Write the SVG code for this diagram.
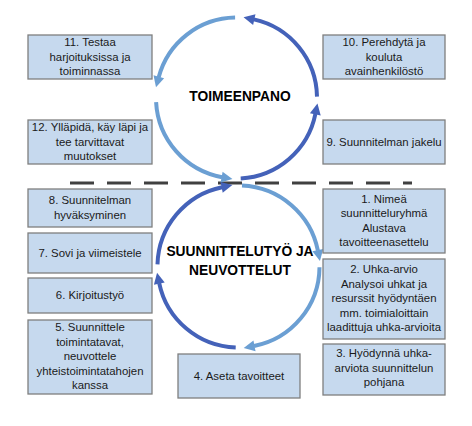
<svg xmlns="http://www.w3.org/2000/svg" width="472" height="426" viewBox="0 0 472 426">
<style>
.box{fill:#C6D9EE;stroke:#7F7F7F;stroke-width:1.3}
.t{font-family:"Liberation Sans",Arial,sans-serif;font-size:11.4px;fill:#1a1a1a;text-anchor:middle}
.big{font-family:"Liberation Sans",Arial,sans-serif;font-size:13.8px;font-weight:bold;fill:#000;text-anchor:middle}
.lt{fill:none;stroke:#6B9FD3;stroke-width:4;marker-end:url(#aL)}
.dk{fill:none;stroke:#4462B9;stroke-width:4;marker-end:url(#aD)}
</style>
<defs>
<marker id="aL" markerUnits="userSpaceOnUse" markerWidth="12" markerHeight="12" viewBox="0 0 12 12" refX="0.5" refY="6" orient="auto" overflow="visible"><path d="M0,0.5 L11,6 L0,11.5 z" fill="#6B9FD3"/></marker>
<marker id="aD" markerUnits="userSpaceOnUse" markerWidth="12" markerHeight="12" viewBox="0 0 12 12" refX="0.5" refY="6" orient="auto" overflow="visible"><path d="M0,0.5 L11,6 L0,11.5 z" fill="#4462B9"/></marker>
</defs>
<rect width="472" height="426" fill="#fff"/>
<g id="connectors">
<line x1="70" y1="183" x2="412" y2="183" stroke="#404040" stroke-width="3" stroke-dasharray="24 13"/>
<path class="lt" d="M235.1 17.5 A80.5 80.5 0 0 0 158.7 77.2"/>
<path class="lt" d="M156.1 102.2 A80.5 80.5 0 0 0 222.1 177.2"/>
<path class="dk" d="M240.7 178.4 A80.5 80.5 0 0 0 315.4 113.9"/>
<path class="dk" d="M317 96.6 A80.5 80.5 0 0 0 253.8 19.4"/>
<path class="lt" d="M242 185.5 A81 81 0 0 1 317.9 250.6"/>
<path class="lt" d="M319.5 267.2 A81 81 0 0 1 254 346"/>
<path class="dk" d="M235.7 347.5 A81 81 0 0 1 159.2 283.1"/>
<path class="dk" d="M157.5 264.4 A81 81 0 0 1 222.1 187.2"/>
</g>
<g id="title-top"><text class="big" x="240" y="101">TOIMEENPANO</text></g>
<g id="title-bottom"><text class="big" x="240" y="256">SUUNNITTELUTYÖ JA</text><text class="big" x="240" y="275">NEUVOTTELUT</text></g>
<g id="n11"><rect class="box" x="28" y="35" width="124" height="44"/><text class="t" x="90" y="46">11. Testaa</text><text class="t" x="90" y="60.5">harjoituksissa ja</text><text class="t" x="90" y="75">toiminnassa</text></g>
<g id="n12"><rect class="box" x="28" y="120" width="124" height="44"/><text class="t" x="90" y="131">12. Ylläpidä, käy läpi ja</text><text class="t" x="90" y="145.5">tee tarvittavat</text><text class="t" x="90" y="160">muutokset</text></g>
<g id="n10"><rect class="box" x="323" y="35" width="122" height="44"/><text class="t" x="384" y="46">10. Perehdytä ja</text><text class="t" x="384" y="60.5">kouluta</text><text class="t" x="384" y="75">avainhenkilöstö</text></g>
<g id="n9"><rect class="box" x="323" y="120" width="122" height="44"/><text class="t" x="384" y="146">9. Suunnitelman jakelu</text></g>
<g id="n8"><rect class="box" x="28" y="189" width="124" height="38"/><text class="t" x="90" y="204">8. Suunnitelman</text><text class="t" x="90" y="218.5">hyväksyminen</text></g>
<g id="n7"><rect class="box" x="28" y="233" width="124" height="40"/><text class="t" x="90" y="256.5">7. Sovi ja viimeistele</text></g>
<g id="n6"><rect class="box" x="28" y="278" width="124" height="35"/><text class="t" x="90" y="299">6. Kirjoitustyö</text></g>
<g id="n5"><rect class="box" x="28" y="320" width="124" height="74"/><text class="t" x="90" y="331">5. Suunnittele</text><text class="t" x="90" y="345.5">toimintatavat,</text><text class="t" x="90" y="360">neuvottele</text><text class="t" x="90" y="374.5">yhteistoimintatahojen</text><text class="t" x="90" y="389">kanssa</text></g>
<g id="n4"><rect class="box" x="178" y="354" width="122" height="44"/><text class="t" x="239" y="380">4. Aseta tavoitteet</text></g>
<g id="n1"><rect class="box" x="323" y="189" width="122" height="64"/><text class="t" x="384" y="202.5">1. Nimeä</text><text class="t" x="384" y="217">suunnitteluryhmä</text><text class="t" x="384" y="231.5">Alustava</text><text class="t" x="384" y="246">tavoitteenasettelu</text></g>
<g id="n2"><rect class="box" x="323" y="259" width="122" height="80"/><text class="t" x="384" y="273">2. Uhka-arvio</text><text class="t" x="384" y="287.5">Analysoi uhkat ja</text><text class="t" x="384" y="302">resurssit hyödyntäen</text><text class="t" x="384" y="316.5">mm. toimialoittain</text><text class="t" x="384" y="331">laadittuja uhka-arvioita</text></g>
<g id="n3"><rect class="box" x="323" y="344" width="122" height="51"/><text class="t" x="384" y="357">3. Hyödynnä uhka-</text><text class="t" x="384" y="371.5">arviota suunnittelun</text><text class="t" x="384" y="386">pohjana</text></g>
</svg>
